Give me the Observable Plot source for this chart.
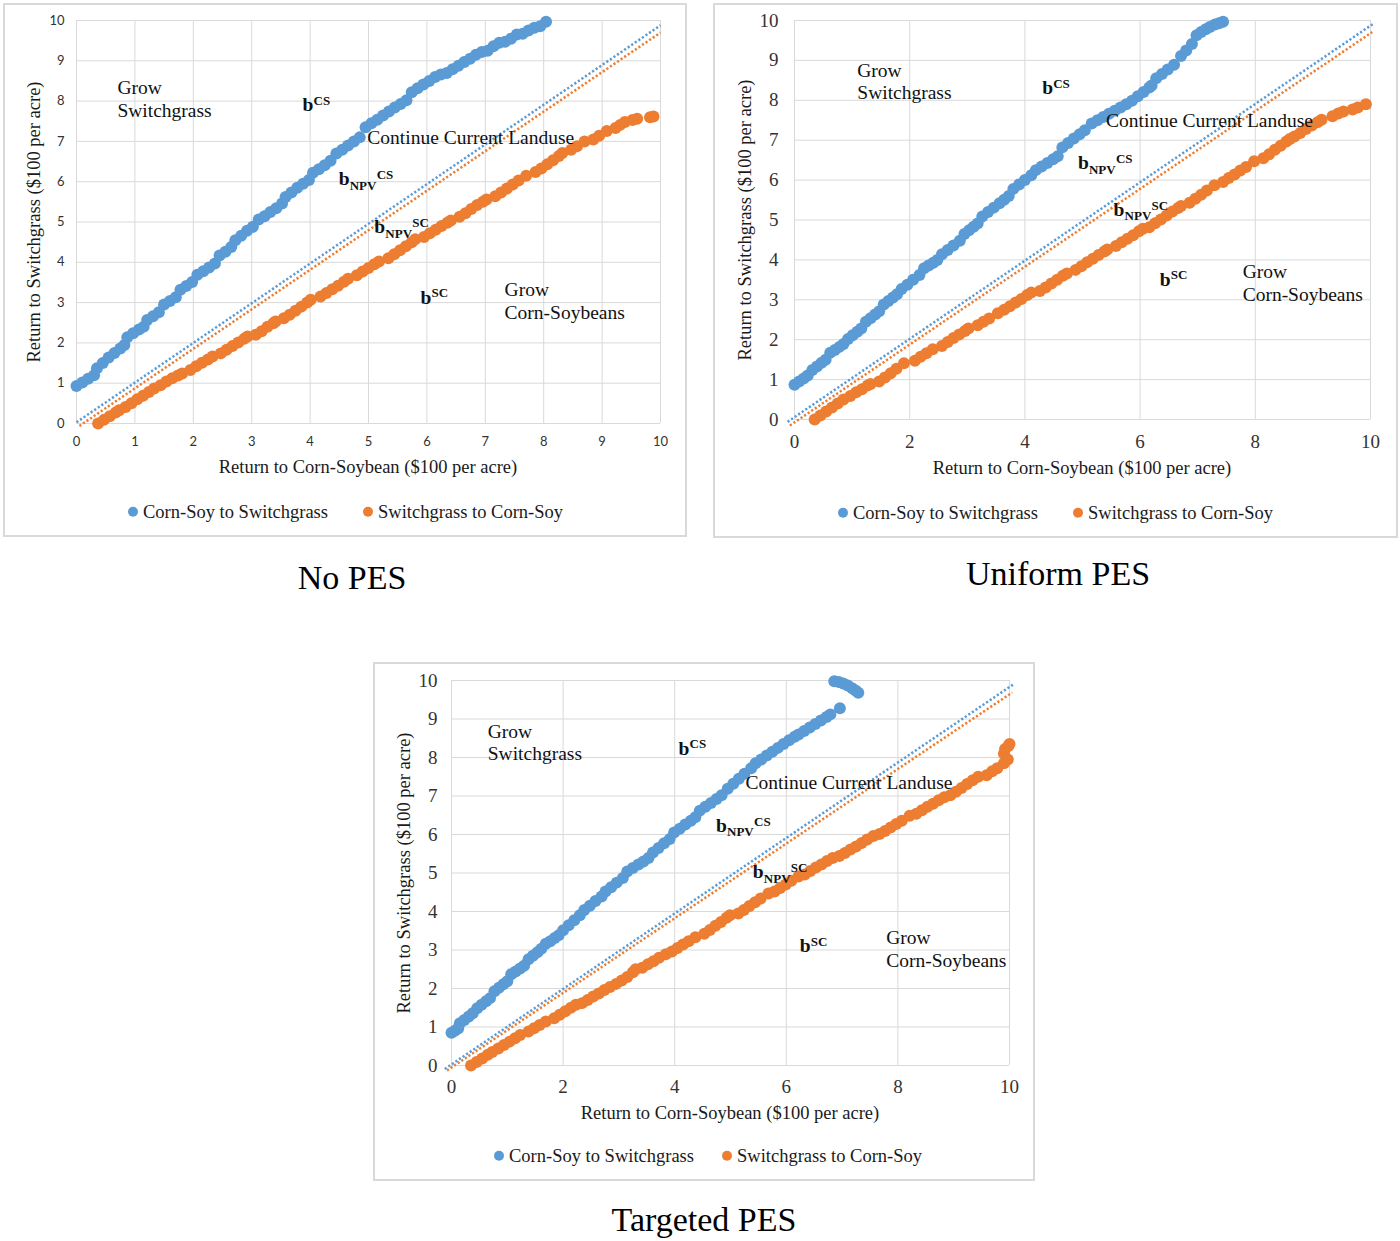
<!DOCTYPE html>
<html>
<head>
<meta charset="utf-8">
<script src="https://cdn.jsdelivr.net/npm/d3@7"></script>
<script src="https://cdn.jsdelivr.net/npm/@observablehq/plot@0.6"></script>
<style>
  body { margin: 0; background: #fff; }
  #root { position: relative; width: 1400px; height: 1241px; overflow: hidden; background: #fff; }
  .frame { position: absolute; border: 2px solid #d9d9d9; box-sizing: border-box; }
  .txt { position: absolute; white-space: nowrap; font-family: "Liberation Serif", "Times New Roman", serif; color: #1a1a1a; line-height: 1; }
  .legdot { display: inline-block; width: 10px; height: 10px; border-radius: 50%; margin-right: 5px; vertical-align: 1px; }
</style>
</head>
<body>
<div id="root"></div>
<script>
// ---------------- DATA ----------------
const seriesNames = ["Corn-Soy to Switchgrass", "Switchgrass to Corn-Soy"];
const panelTitles = ["No PES", "Uniform PES", "Targeted PES"];
const xAxisTitle = "Return to Corn-Soybean ($100 per acre)";
const yAxisTitle = "Return to Switchgrass ($100 per acre)";
const yTicks = [0,1,2,3,4,5,6,7,8,9,10];
const xTicksNoPes = [0,1,2,3,4,5,6,7,8,9,10];
const xTicksPes = [0,2,4,6,8,10];

// No PES: Corn-Soy -> Switchgrass boundary (b^CS)
const noPesCS = [[0,0.93],[0.1,1.02],[0.2,1.11],[0.3,1.2],[0.35,1.37],[0.45,1.5],[0.55,1.64],[0.65,1.75],[0.75,1.86],[0.82,1.95],
[0.87,2.14],[0.97,2.24],[1.07,2.33],[1.15,2.4],[1.21,2.57],[1.31,2.66],[1.41,2.76],[1.5,2.95],[1.6,3.04],[1.7,3.13],
[1.78,3.32],[1.88,3.41],[1.98,3.51],[2.07,3.69],[2.17,3.78],[2.27,3.87],[2.37,3.97],[2.45,4.17],[2.55,4.26],[2.65,4.38],
[2.72,4.55],[2.82,4.66],[2.92,4.78],[3.02,4.88],[3.12,5.06],[3.22,5.14],[3.32,5.25],[3.42,5.34],[3.52,5.46],[3.58,5.62],
[3.68,5.73],[3.78,5.85],[3.88,5.95],[3.98,6.04],[4.05,6.22],[4.15,6.31],[4.25,6.41],[4.35,6.52],[4.45,6.7],[4.55,6.79],
[4.65,6.9],[4.75,7.0],[4.85,7.1],[4.95,7.35],[5.05,7.45],[5.15,7.54],[5.25,7.64],[5.35,7.74],[5.45,7.84],[5.55,7.93],
[5.65,8.02],[5.74,8.22],[5.84,8.32],[5.94,8.41],[6.04,8.5],[6.14,8.6],[6.24,8.66],[6.34,8.7],[6.44,8.79],[6.54,8.88],
[6.64,8.97],[6.74,9.05],[6.84,9.15],[6.94,9.22],[7.04,9.25],[7.14,9.36],[7.24,9.45],[7.34,9.47],[7.44,9.55],[7.54,9.65],
[7.64,9.67],[7.74,9.75],[7.84,9.82],[7.94,9.86],[8.04,9.97]];

// No PES: Switchgrass -> Corn-Soy boundary (b^SC)
const noPesSC = [[0.37,0],[0.47,0.09],[0.57,0.18],[0.67,0.27],[0.73,0.33],
[0.84,0.41],[0.94,0.5],[1.04,0.6],[1.14,0.69],[1.24,0.78],[1.33,0.87],
[1.44,0.95],[1.54,1.04],[1.64,1.12],[1.74,1.19],[1.81,1.24],
[1.95,1.33],[2.05,1.42],[2.15,1.51],[2.25,1.59],[2.33,1.66],
[2.47,1.74],[2.57,1.83],[2.67,1.92],[2.77,2.01],[2.87,2.1],[2.93,2.16],
[3.07,2.2],[3.17,2.29],[3.27,2.4],[3.37,2.49],[3.41,2.53],
[3.55,2.61],[3.65,2.7],[3.75,2.8],[3.85,2.9],[3.95,3.0],[4.01,3.07],
[4.18,3.15],[4.28,3.24],[4.38,3.33],[4.48,3.42],[4.58,3.52],[4.65,3.59],
[4.8,3.68],[4.9,3.77],[5.0,3.86],[5.1,3.95],[5.18,4.02],
[5.34,4.1],[5.44,4.2],[5.54,4.3],[5.64,4.4],[5.74,4.5],[5.8,4.57],
[5.95,4.63],[6.05,4.72],[6.15,4.81],[6.25,4.9],[6.35,4.98],[6.41,5.04],
[6.56,5.13],[6.66,5.22],[6.76,5.32],[6.86,5.42],[6.96,5.5],[7.02,5.56],
[7.17,5.64],[7.27,5.73],[7.37,5.83],[7.47,5.93],[7.57,6.03],[7.7,6.15],
[7.86,6.24],[7.96,6.33],[8.06,6.43],[8.16,6.53],[8.26,6.64],[8.32,6.71],
[8.47,6.79],[8.57,6.88],[8.7,7.0],
[8.85,7.05],[8.95,7.14],[9.08,7.26],
[9.23,7.33],[9.31,7.41],[9.39,7.48],
[9.52,7.53],[9.6,7.56],
[9.82,7.6],[9.88,7.62]];

// Uniform PES
const uniCS = [[0,0.87],[0.08,0.95],[0.16,1.03],[0.23,1.1],
[0.31,1.24],[0.39,1.33],[0.47,1.42],[0.54,1.5],
[0.62,1.67],[0.7,1.74],[0.78,1.82],[0.85,1.89],
[0.93,2.02],[1.01,2.11],[1.09,2.2],[1.16,2.28],
[1.24,2.45],[1.32,2.54],[1.4,2.63],[1.47,2.71],
[1.55,2.88],[1.63,2.97],[1.71,3.06],[1.78,3.14],
[1.86,3.27],[1.96,3.38],[2.06,3.5],[2.17,3.62],
[2.25,3.79],[2.33,3.86],[2.41,3.93],[2.48,4.0],
[2.56,4.14],[2.66,4.25],[2.76,4.36],[2.87,4.48],
[2.95,4.65],[3.03,4.74],[3.11,4.83],[3.18,4.91],
[3.26,5.09],[3.36,5.2],[3.46,5.31],[3.56,5.42],[3.64,5.51],[3.72,5.6],
[3.8,5.78],[3.9,5.89],[4.0,6.0],[4.11,6.12],
[4.19,6.25],[4.29,6.34],[4.39,6.43],[4.49,6.52],[4.57,6.6],
[4.65,6.82],[4.75,6.93],[4.85,7.04],[4.95,7.15],[5.04,7.25],
[5.16,7.42],[5.26,7.5],[5.36,7.58],[5.46,7.66],[5.56,7.74],[5.66,7.82],[5.76,7.9],[5.86,7.99],[5.96,8.1],[6.06,8.21],[6.16,8.32],[6.2,8.37],
[6.28,8.55],[6.38,8.66],[6.48,8.77],[6.59,8.89],
[6.71,9.11],[6.8,9.25],[6.9,9.41],
[6.98,9.63],[7.06,9.71],[7.14,9.78],[7.21,9.84],[7.3,9.9],[7.37,9.93],[7.44,9.97]];

const uniSC = [[0.35,0],[0.45,0.1],[0.55,0.2],[0.65,0.3],[0.75,0.4],[0.85,0.5],
[0.97,0.59],[1.07,0.68],[1.17,0.76],[1.27,0.85],[1.32,0.89],
[1.47,0.95],[1.57,1.05],[1.67,1.16],[1.77,1.27],[1.9,1.41],
[2.09,1.47],[2.19,1.57],[2.29,1.66],[2.4,1.76],
[2.56,1.84],[2.66,1.94],[2.76,2.04],[2.86,2.13],[2.96,2.22],[3.02,2.28],
[3.18,2.36],[3.28,2.45],[3.38,2.53],[3.53,2.66],
[3.64,2.75],[3.74,2.84],[3.84,2.93],[3.94,3.02],[4.04,3.12],[4.11,3.18],
[4.26,3.22],[4.36,3.31],[4.46,3.41],[4.56,3.5],[4.66,3.6],[4.73,3.66],
[4.88,3.75],[4.98,3.84],[5.08,3.94],[5.18,4.03],[5.28,4.12],[5.38,4.21],[5.43,4.26],
[5.58,4.35],[5.68,4.44],[5.78,4.53],[5.88,4.62],[5.98,4.72],[6.05,4.78],
[6.16,4.82],[6.26,4.92],[6.36,5.01],[6.46,5.11],[6.56,5.21],[6.66,5.3],[6.71,5.35],
[6.86,5.43],[6.96,5.53],[7.06,5.63],[7.16,5.74],[7.29,5.87],
[7.44,5.95],[7.54,6.05],[7.64,6.14],[7.74,6.24],[7.84,6.33],[7.98,6.47],
[8.14,6.55],[8.24,6.65],[8.34,6.76],[8.44,6.86],[8.54,6.97],[8.6,7.03],
[8.68,7.09],[8.78,7.18],[8.88,7.28],[8.98,7.37],[9.08,7.45],[9.15,7.51],
[9.34,7.6],[9.44,7.67],[9.53,7.72],
[9.69,7.77],[9.78,7.82],[9.92,7.9]];

// Targeted PES
const tgtCS = [[0,0.85],[0.06,0.9],[0.12,0.96],
[0.15,1.1],[0.23,1.18],[0.31,1.27],[0.38,1.36],
[0.46,1.49],[0.54,1.58],[0.62,1.67],[0.69,1.75],
[0.77,1.93],[0.85,2.02],[0.93,2.11],[1.0,2.19],
[1.07,2.37],[1.15,2.44],[1.23,2.52],[1.3,2.59],
[1.38,2.76],[1.46,2.85],[1.54,2.94],[1.61,3.03],
[1.69,3.16],[1.77,3.23],[1.85,3.31],[1.92,3.38],
[2.0,3.51],[2.1,3.64],[2.2,3.77],[2.3,3.9],
[2.38,4.04],[2.48,4.15],[2.58,4.27],[2.69,4.39],
[2.76,4.52],[2.86,4.63],[2.96,4.75],[3.07,4.87],
[3.15,5.04],[3.25,5.13],[3.35,5.22],[3.44,5.3],[3.53,5.39],
[3.61,5.53],[3.71,5.65],[3.81,5.77],[3.91,5.88],
[3.99,6.05],[4.09,6.15],[4.19,6.26],[4.29,6.36],[4.37,6.45],
[4.45,6.62],[4.55,6.72],[4.65,6.82],[4.75,6.92],[4.84,7.02],
[4.95,7.19],[5.05,7.32],[5.15,7.45],[5.25,7.58],[5.37,7.72],
[5.45,7.85],[5.55,7.95],[5.65,8.05],[5.75,8.15],[5.85,8.25],[5.95,8.35],[6.05,8.45],[6.15,8.54],[6.22,8.6],
[6.32,8.69],[6.42,8.78],[6.52,8.87],[6.62,8.96],[6.72,9.05],[6.79,9.12],
[6.96,9.28],
[6.86,9.98],[6.94,9.96],[7.02,9.92],[7.1,9.87],[7.18,9.8],[7.24,9.74],[7.29,9.68]];

const tgtSC = [[0.35,0],[0.45,0.09],[0.55,0.18],[0.65,0.28],[0.73,0.35],
[0.84,0.44],[0.94,0.53],[1.04,0.62],[1.14,0.71],[1.23,0.79],
[1.38,0.88],[1.48,0.97],[1.58,1.05],[1.69,1.14],
[1.84,1.23],[1.94,1.32],[2.04,1.41],[2.14,1.5],[2.23,1.58],
[2.34,1.62],[2.44,1.7],[2.54,1.79],[2.64,1.87],[2.74,1.96],[2.84,2.04],
[2.95,2.12],[3.05,2.21],[3.15,2.3],[3.25,2.42],[3.3,2.5],
[3.42,2.54],[3.52,2.63],[3.62,2.71],[3.72,2.8],[3.84,2.89],
[3.95,2.96],[4.05,3.05],[4.15,3.14],[4.25,3.23],[4.37,3.33],
[4.53,3.42],[4.63,3.52],[4.73,3.63],[4.83,3.73],[4.93,3.84],[4.99,3.9],
[5.14,3.95],[5.24,4.04],[5.34,4.14],[5.44,4.24],[5.54,4.34],[5.68,4.47],
[5.79,4.52],[5.89,4.61],[5.99,4.7],[6.09,4.8],[6.22,4.91],
[6.33,4.96],[6.43,5.05],[6.53,5.14],[6.63,5.22],[6.73,5.31],[6.83,5.39],
[6.95,5.44],[7.05,5.52],[7.15,5.61],[7.25,5.69],[7.35,5.78],[7.45,5.87],[7.56,5.96],
[7.67,6.01],[7.77,6.09],[7.87,6.18],[7.97,6.27],[8.07,6.36],[8.21,6.49],
[8.33,6.54],[8.43,6.63],[8.53,6.72],[8.63,6.8],[8.73,6.89],[8.83,6.97],
[8.94,7.02],[9.04,7.11],[9.14,7.21],[9.24,7.31],[9.34,7.41],[9.44,7.5],
[9.59,7.54],[9.69,7.64],[9.78,7.72],
[9.9,7.85],[9.97,7.95],[9.9,8.1],[9.92,8.22],[9.98,8.3],[10.0,8.35]];

// NPV boundaries (dotted lines): endpoints
const noPesNpvCS = [[0,0.03],[10,9.88]];
const noPesNpvSC = [[0.05,-0.06],[10,9.7]];
const uniNpvCS = [[-0.12,-0.06],[10.05,9.92]];
const uniNpvSC = [[-0.08,-0.15],[10.03,9.71]];
const tgtNpvCS = [[-0.12,-0.09],[10.08,9.91]];
const tgtNpvSC = [[-0.08,-0.13],[10.05,9.69]];

// Region labels (data coordinates)
const noPesLabels = [{x:0.70,y:8.34,t:"Grow"},{x:0.70,y:7.76,t:"Switchgrass"},{x:4.98,y:7.1,t:"Continue Current Landuse"},{x:7.33,y:3.33,t:"Grow"},{x:7.33,y:2.76,t:"Corn-Soybeans"}];
const noPesB = [{x:3.87,y:7.9,sub:"",sup:"CS"},{x:4.49,y:6.07,sub:"NPV",sup:"CS"},{x:5.1,y:4.88,sub:"NPV",sup:"SC"},{x:5.89,y:3.13,sub:"",sup:"SC"}];
const uniLabels = [{x:1.09,y:8.75,t:"Grow"},{x:1.09,y:8.18,t:"Switchgrass"},{x:5.41,y:7.5,t:"Continue Current Landuse"},{x:7.78,y:3.7,t:"Grow"},{x:7.78,y:3.12,t:"Corn-Soybeans"}];
const uniB = [{x:4.3,y:8.31,sub:"",sup:"CS"},{x:4.92,y:6.43,sub:"NPV",sup:"CS"},{x:5.54,y:5.26,sub:"NPV",sup:"SC"},{x:6.34,y:3.51,sub:"",sup:"SC"}];
const tgtLabels = [{x:0.65,y:8.68,t:"Grow"},{x:0.65,y:8.1,t:"Switchgrass"},{x:5.27,y:7.35,t:"Continue Current Landuse"},{x:7.79,y:3.32,t:"Grow"},{x:7.79,y:2.71,t:"Corn-Soybeans"}];
const tgtB = [{x:4.07,y:8.23,sub:"",sup:"CS"},{x:4.74,y:6.23,sub:"NPV",sup:"CS"},{x:5.4,y:5.03,sub:"NPV",sup:"SC"},{x:6.24,y:3.1,sub:"",sup:"SC"}];

// ---------------- DRAWING ----------------
const BLUE = "#5B9BD5", ORANGE = "#ED7D31", GRID = "#d9d9d9";
const SERIF = "'Liberation Serif', 'Times New Roman', serif";
const root = document.getElementById("root");

function addDiv(cls, style, html) {
  const d = document.createElement("div");
  d.className = cls;
  Object.assign(d.style, style);
  if (html !== undefined) d.innerHTML = html;
  root.appendChild(d);
  return d;
}

function makePanel(cfg) {
  addDiv("frame", {left: cfg.frame[0]+"px", top: cfg.frame[1]+"px", width: (cfg.frame[2]-cfg.frame[0])+"px", height: (cfg.frame[3]-cfg.frame[1])+"px"});
  const px = d => d[0], py = d => d[1];
  const textBase = {fontFamily: SERIF, fill: "#111", textAnchor: "start", lineAnchor: "middle"};
  const dotted = {strokeWidth: 2.5, strokeDasharray: "2.2,2.1", strokeLinecap: "butt"};
  const plot = Plot.plot({
    width: cfg.w, height: cfg.h,
    marginLeft: cfg.m[0], marginRight: cfg.m[1], marginTop: cfg.m[2], marginBottom: cfg.m[3],
    x: {domain: [0, 10]},
    y: {domain: [0, 10]},
    style: {background: "transparent", fontFamily: cfg.tickFont, fontSize: cfg.tickSize + "px", color: "#333", overflow: "visible"},
    marks: [
      Plot.gridX(cfg.xTicks, {stroke: GRID, strokeOpacity: 1, strokeWidth: 1}),
      Plot.gridY(yTicks, {stroke: GRID, strokeOpacity: 1, strokeWidth: 1}),
      Plot.axisX(cfg.xTicks, {tickSize: 0, tickPadding: cfg.xPad, label: null, fontSize: cfg.tickSize, fontFamily: cfg.tickFont, fill: "#333"}),
      Plot.axisY(yTicks, {tickSize: 0, tickPadding: cfg.yPad, label: null, fontSize: cfg.tickSize, fontFamily: cfg.tickFont, fill: "#333"}),
      Plot.dot(cfg.cs, {x: px, y: py, r: 6, fill: BLUE, stroke: null}),
      Plot.dot(cfg.sc, {x: px, y: py, r: 6, fill: ORANGE, stroke: null}),
      Plot.line(cfg.npvCS, {x: px, y: py, stroke: BLUE, ...dotted}),
      Plot.line(cfg.npvSC, {x: px, y: py, stroke: ORANGE, ...dotted}),
      Plot.text(cfg.labels, {...textBase, x: "x", y: "y", text: "t", fontSize: 19.5}),
      Plot.text(cfg.bl, {...textBase, x: "x", y: "y", text: () => "b", fontSize: 19.5, fontWeight: "bold"}),
      Plot.text(cfg.bl.filter(d => d.sub), {...textBase, x: "x", y: "y", text: "sub", fontSize: 13, fontWeight: "bold", dx: 11, dy: 6.5}),
      Plot.text(cfg.bl.filter(d => d.sub), {...textBase, x: "x", y: "y", text: "sup", fontSize: 13, fontWeight: "bold", dx: 38, dy: -4}),
      Plot.text(cfg.bl.filter(d => !d.sub), {...textBase, x: "x", y: "y", text: "sup", fontSize: 13, fontWeight: "bold", dx: 11, dy: -4.5})
    ]
  });
  plot.style.position = "absolute";
  plot.style.left = cfg.left + "px";
  plot.style.top = cfg.top + "px";
  root.appendChild(plot);

  // axis titles
  addDiv("txt", {left: cfg.xTitle[0]+"px", top: cfg.xTitle[1]+"px", fontSize: "18.5px", transform: "translate(-50%,-50%)"}, xAxisTitle);
  addDiv("txt", {left: cfg.yTitle[0]+"px", top: cfg.yTitle[1]+"px", fontSize: "18.5px", transform: "translate(-50%,-50%) rotate(-90deg)"}, yAxisTitle);
  // legend
  addDiv("txt", {left: cfg.leg[0]+"px", top: cfg.leg[2]+"px", fontSize: "18.5px", transform: "translate(0,-50%)"},
    `<span class="legdot" style="background:${BLUE}"></span>${seriesNames[0]}`);
  addDiv("txt", {left: cfg.leg[1]+"px", top: cfg.leg[2]+"px", fontSize: "18.5px", transform: "translate(0,-50%)"},
    `<span class="legdot" style="background:${ORANGE}"></span>${seriesNames[1]}`);
  // panel title
  addDiv("txt", {left: cfg.title[0]+"px", top: cfg.title[1]+"px", fontSize: "34px", color: "#000", transform: "translate(-50%,-50%)"}, cfg.titleText);
}

makePanel({
  frame: [3, 3, 687, 537], left: 0, top: 0, w: 700, h: 490, m: [76, 40, 20, 67],
  xTicks: xTicksNoPes, tickFont: "Lato, 'Open Sans', sans-serif", tickSize: 13, xPad: 13, yPad: 12,
  cs: noPesCS, sc: noPesSC, npvCS: noPesNpvCS, npvSC: noPesNpvSC, labels: noPesLabels, bl: noPesB,
  xTitle: [368, 467], yTitle: [34, 222], leg: [128, 363, 512], title: [352, 578], titleText: panelTitles[0]
});
makePanel({
  frame: [713, 3, 1398, 538], left: 700, top: 0, w: 700, h: 490, m: [94, 30, 20, 71],
  xTicks: xTicksPes, tickFont: SERIF, tickSize: 19, xPad: 15, yPad: 16,
  cs: uniCS, sc: uniSC, npvCS: uniNpvCS, npvSC: uniNpvSC, labels: uniLabels, bl: uniB,
  xTitle: [1082, 468], yTitle: [745, 220], leg: [838, 1073, 513], title: [1058, 574], titleText: panelTitles[1]
});
makePanel({
  frame: [373, 662, 1035, 1181], left: 370, top: 660, w: 670, h: 480, m: [81, 31, 20, 75],
  xTicks: xTicksPes, tickFont: SERIF, tickSize: 19, xPad: 14, yPad: 14,
  cs: tgtCS, sc: tgtSC, npvCS: tgtNpvCS, npvSC: tgtNpvSC, labels: tgtLabels, bl: tgtB,
  xTitle: [730, 1113], yTitle: [404, 873], leg: [494, 722, 1156], title: [704, 1220], titleText: panelTitles[2]
});
</script>
</body>
</html>
